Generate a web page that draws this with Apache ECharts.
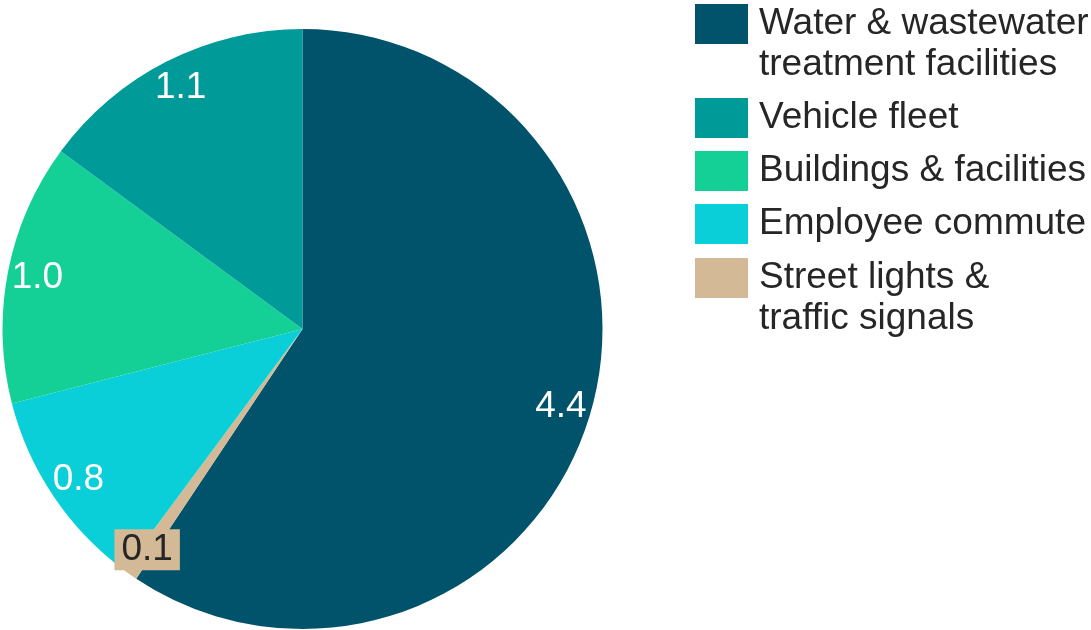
<!DOCTYPE html>
<html>
<head>
<meta charset="utf-8">
<script src="https://cdn.jsdelivr.net/npm/echarts@6/dist/echarts.min.js"></script>
<style>
  html, body { margin: 0; padding: 0; background: #fff; }
  #chart { width: 1091px; height: 630px; }
</style>
</head>
<body>
<div id="chart"></div>
<script>
// slices, clockwise from 12 o'clock
const categories = [
  "Water & wastewater\ntreatment facilities",
  "Street lights &\ntraffic signals",
  "Employee commute",
  "Buildings & facilities",
  "Vehicle fleet",
];
const values = [4.38, 0.06, 0.8, 1.04, 1.1];
const colors = ["#00536A", "#D4B996", "#0BCFD8", "#14D097", "#009A98"];

// legend order as printed on the right
const legendMain = [categories[0], categories[4], categories[3], categories[2]];
const legendLast = [categories[1]];

const FONT = "Liberation Sans";
const TEXT = "#262626";

const chart = echarts.init(document.getElementById("chart"));

const legendBase = {
  orient: "vertical",
  left: 695,
  icon: "rect",
  itemWidth: 53,
  itemHeight: 40,
  itemGap: 12,
  padding: 0,
  selectedMode: false,
  // two-line entries get an empty first line so the square sits on line one
  formatter: (name) => (name.indexOf("\n") >= 0 ? "\n" + name : name),
  textStyle: {
    fontFamily: FONT,
    fontSize: 37,
    lineHeight: 41,
    color: TEXT,
    padding: [0, 0, 0, 6],
  },
};

chart.setOption({
  animation: false,
  legend: [
    Object.assign({}, legendBase, { top: -37.5, data: legendMain }),
    Object.assign({}, legendBase, { top: 216.5, data: legendLast }),
  ],
  series: [
    {
      name: "Emissions",
      type: "pie",
      center: [302.5, 329],
      radius: [0, 300],
      startAngle: 90,
      clockwise: true,
      label: { show: false },
      labelLine: { show: false },
      emphasis: { disabled: true },
      data: categories.map((c, i) => ({
        name: c,
        value: values[i],
        itemStyle: { color: colors[i] },
      })),
    },
    {
      // transparent ring that carries the value labels near the rim
      name: "Labels",
      type: "pie",
      center: [302.5, 329],
      radius: [234, 300],
      startAngle: 90,
      clockwise: true,
      silent: true,
      legendHoverLink: false,
      itemStyle: { color: "rgba(0,0,0,0)" },
      labelLine: { show: false },
      emphasis: { disabled: true },
      label: {
        show: true,
        position: "inside",
        fontFamily: FONT,
        fontSize: 37,
        color: "#ffffff",
        formatter: (p) => p.value.toFixed(1),
      },
      data: categories.map((c, i) => {
        const d = { name: c + " ", value: values[i] };
        if (i === 1) {
          d.label = {
            color: TEXT,
            backgroundColor: colors[1],
            padding: [3, 7, 1, 7],
            lineHeight: 37,
          };
        }
        return d;
      }),
    },
  ],
});
</script>
</body>
</html>
